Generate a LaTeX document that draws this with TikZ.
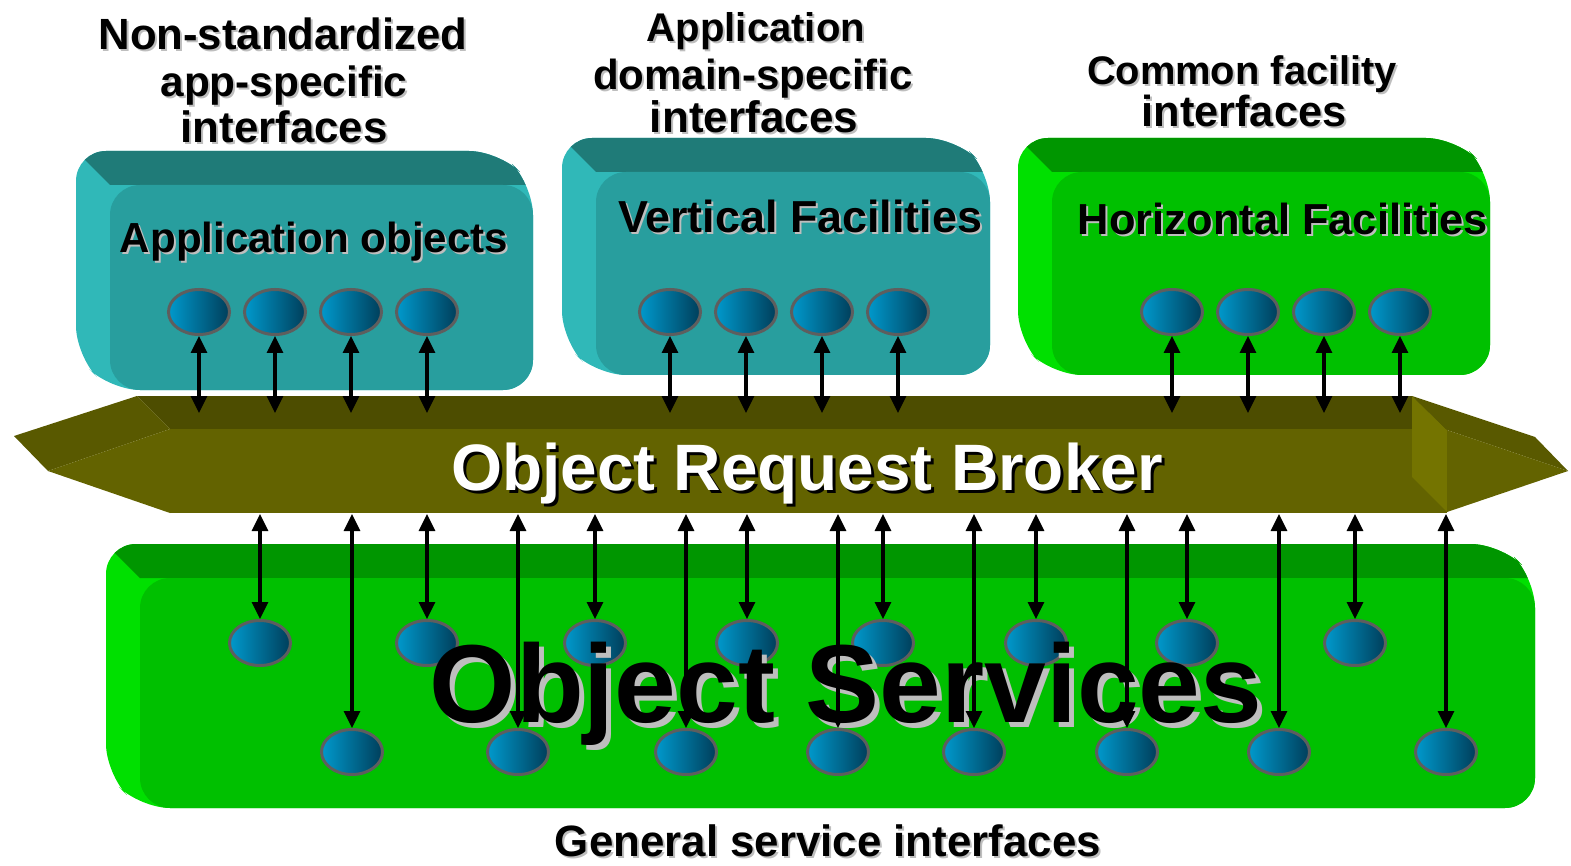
\documentclass[tikz,border=0pt]{standalone}
\usepackage{fontspec}
\usepackage{graphicx}
\newfontfamily\cfont{Liberation Sans}
\usetikzlibrary{arrows.meta,shapes.geometric}
\definecolor{tealF}{HTML}{289E9E}
\definecolor{tealT}{HTML}{1F7B78}
\definecolor{tealL}{HTML}{30B8B8}
\definecolor{grnF}{HTML}{00C000}
\definecolor{grnT}{HTML}{009600}
\definecolor{grnL}{HTML}{00E000}
\definecolor{orbT}{HTML}{4D4D00}
\definecolor{orbF}{HTML}{636300}
\definecolor{orbU}{HTML}{595900}
\definecolor{orbE}{HTML}{747400}
\definecolor{ballL}{HTML}{0099CC}
\definecolor{ballR}{HTML}{003E5A}
\definecolor{ballB}{HTML}{5E5E5E}
\definecolor{shd}{HTML}{BEBEBE}
\tikzset{
  ball/.style={ellipse, minimum width=61pt, minimum height=45pt, inner sep=0pt,
    draw=ballB, line width=3pt, left color=ballL, right color=ballR},
  tipx/.tip={Triangle[length=17pt 0 0,width=16pt 0 0]},
  arr/.style={line width=3.2pt, tipx-tipx},
  lbl/.style={inner sep=0pt, outer sep=0pt, anchor=base, font=\cfont\bfseries},
}
% 3-D box: front x1 y1 x2 y2, depth, top colour, left colour, front colour
\newcommand\tdbox[8]{%
  \fill[#7, rounded corners=30pt] ({#1-#5},{#2-#5}) -- ({#3-#5},{#2-#5}) -- (#3,#2) -- (#3,#4) -- (#1,#4) -- ({#1-#5},{#4-#5}) -- cycle;
  \begin{scope}
    \clip[rounded corners=30pt] ({#1-#5},{#2-#5}) -- ({#3-#5},{#2-#5}) -- (#3,#2) -- (#3,#4) -- (#1,#4) -- ({#1-#5},{#4-#5}) -- cycle;
    \fill[#6] ({#1-#5},{#2-#5}) -- ({#3-#5},{#2-#5}) -- (#3,#2) -- (#1,#2) -- cycle;
  \end{scope}
  \fill[#8, rounded corners=30pt] (#1,#2) rectangle (#3,#4);
}
% shadowed text: name, x, baseline y, width, text, fg, shadow colour, offset
\newcommand\shtext[8]{%
  \node[lbl, text=#7] (#1-sh) at ({#2+#8},{#3+#8}) {\resizebox{#4pt}{!}{#5}};
  \node[lbl, text=#6] (#1) at (#2,#3) {\resizebox{#4pt}{!}{#5}};
}
\begin{document}
\begin{tikzpicture}[x=1pt,y=-1pt]
\useasboundingbox (0,0) rectangle (1571,866);

% ---------- top boxes ----------
\tdbox{110}{185}{533}{390}{34}{tealT}{tealL}{tealF}
\tdbox{596}{172}{990}{375}{34}{tealT}{tealL}{tealF}
\tdbox{1052}{172}{1490}{375}{34}{grnT}{grnL}{grnF}

% ---------- Object Request Broker ----------
\fill[orbT] (137,396) -- (1412,396) -- (1447,429) -- (170,429) -- cycle;
\fill[orbF] (170,429) rectangle (1447,513);
\fill[orbU] (137,396) -- (14,436) -- (48,471) -- (170,429) -- cycle;
\fill[orbF] (48,471) -- (170,429) -- (170,513) -- cycle;
\fill[orbE] (1412,396) -- (1447,430) -- (1447,512) -- (1412,477) -- cycle;
\fill[orbU] (1412,396) -- (1535,437) -- (1568,471) -- (1447,430) -- cycle;
\fill[orbF] (1447,430) -- (1568,471) -- (1447,512) -- cycle;
\coordinate (orbtop) at (0,413);
\coordinate (orbbot) at (0,514);

% ---------- bottom box ----------
\tdbox{140}{578}{1535}{808}{34}{grnT}{grnL}{grnF}

% ---------- labels above ----------
\shtext{l1a}{283}{50}{369}{Non-standardized}{black}{shd}{2}
\shtext{l1b}{284}{97}{247}{app-specific}{black}{shd}{2}
\shtext{l1c}{284}{143}{207}{interfaces}{black}{shd}{2}
\shtext{l2a}{756}{42}{218}{Application}{black}{shd}{2}
\shtext{l2b}{753}{90}{320}{domain-specific}{black}{shd}{2}
\shtext{l2c}{754}{133}{208}{interfaces}{black}{shd}{2}
\shtext{l3a}{1242}{85}{310}{Common facility}{black}{shd}{2}
\shtext{l3b}{1244}{127}{205}{interfaces}{black}{shd}{2}
\shtext{gsi}{828}{856}{546}{General service interfaces}{black}{shd}{2}

% ---------- box titles ----------
\shtext{appobj}{314}{253}{388}{Application objects}{black}{shd}{2}
\shtext{vert}{800}{233}{364}{Vertical Facilities}{black}{shd}{2}
\shtext{horiz}{1283}{235}{410}{Horizontal Facilities}{black}{shd}{2}
\shtext{orb}{807}{490}{711}{Object Request Broker}{white}{black}{3}

% ---------- top objects ----------
\foreach \n/\x in {a1/199,a2/275,a3/351,a4/427,
                   v1/670,v2/746,v3/822,v4/898,
                   h1/1172,h2/1248,h3/1324,h4/1400}{
  \node[ball] (\n) at (\x,312) {};
}
\foreach \n in {a1,a2,a3,a4,v1,v2,v3,v4,h1,h2,h3,h4}{
  \draw[arr] (\n.south) -- (\n.south |- orbtop);
}

% ---------- bottom objects ----------
\foreach \n/\x in {p1/260,p2/427,p3/595,p4/747,p5/883,p6/1036,p7/1187,p8/1355}{
  \node[ball] (\n) at (\x,643) {};
}
\foreach \n/\x in {q1/352,q2/518,q3/686,q4/838,q5/974,q6/1127,q7/1279,q8/1446}{
  \node[ball] (\n) at (\x,752) {};
}
\shtext{os}{846}{722}{832}{Object Services}{black}{shd}{5}
\foreach \n in {p1,p2,p3,p4,p5,p6,p7,p8,q1,q2,q3,q4,q5,q6,q7,q8}{
  \draw[arr] (\n.north |- orbbot) -- (\n.north);
}
\end{tikzpicture}
\end{document}
